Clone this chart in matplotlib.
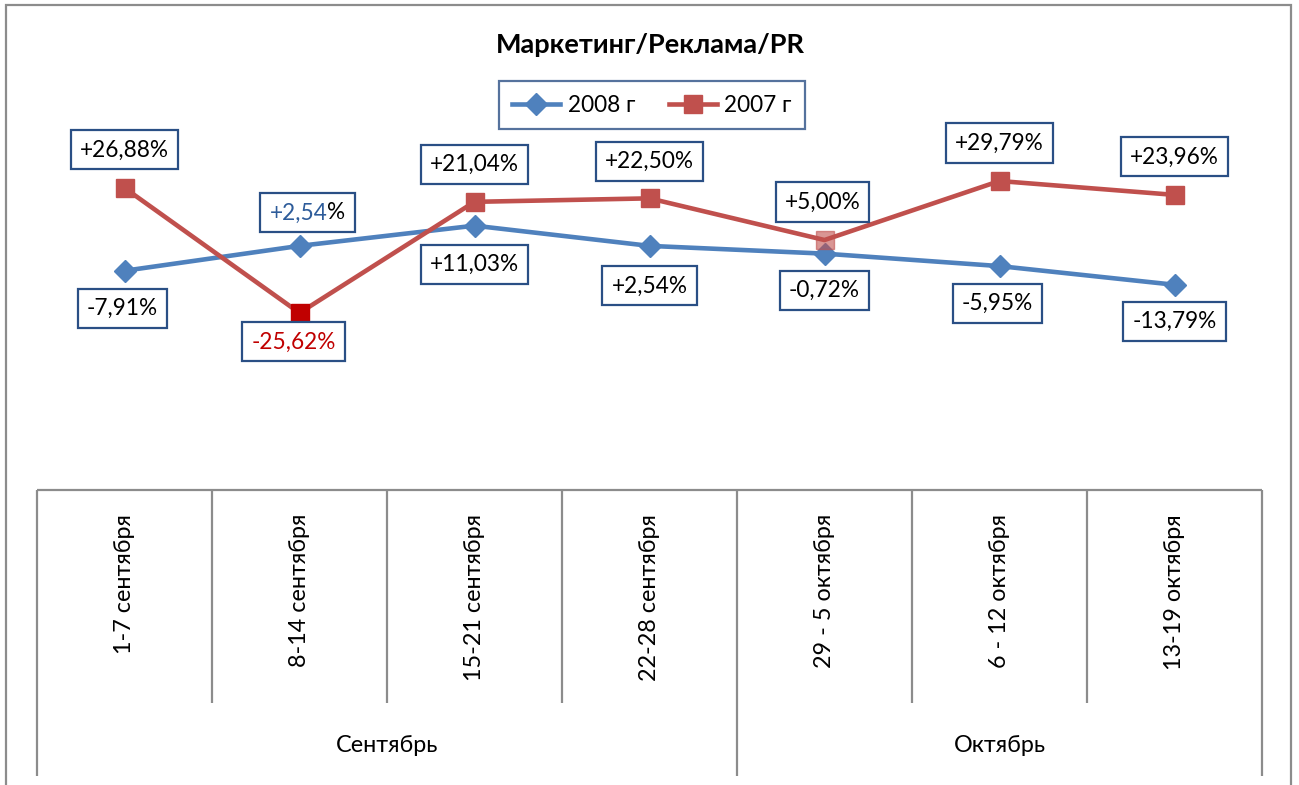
import matplotlib
matplotlib.use("Agg")
import matplotlib.pyplot as plt
from matplotlib.lines import Line2D
from matplotlib.patches import Rectangle

plt.rcParams['font.family'] = ['Lato', 'Open Sans', 'DejaVu Sans']

# ---- data ----
title = "Маркетинг/Реклама/PR"
weeks = ["1-7 сентября", "8-14 сентября", "15-21 сентября", "22-28 сентября",
         "29 - 5 октября", "6 - 12 октября", "13-19 октября"]
months = ["Сентябрь", "Октябрь"]
month_counts = [4, 3]
series_names = ["2008 г", "2007 г"]
values_2008 = [-7.91, 2.54, 11.03, 2.54, -0.72, -5.95, -13.79]
values_2007 = [26.88, -25.62, 21.04, 22.50, 5.00, 29.79, 23.96]

# ---- layout / style ----
W, H, DPI = 1299, 785, 100
BLUE = '#4F81BD'
RED = '#C0504D'
DARKRED = '#C00000'
BOXC = '#2A4F85'
GRAY = '#8C8C8C'
FS = 16.3
FS_AX = 16.8

def fx(px):
    return px / W

def fy(py):
    return 1 - py / H

def pt(px):
    return px * 72.0 / DPI

fig = plt.figure(figsize=(W / DPI, H / DPI), dpi=DPI)
fig.patch.set_facecolor('white')

# outer chart border
fig.add_artist(Rectangle((fx(6), -0.05), fx(1291) - fx(6), fy(5) + 0.05,
                         transform=fig.transFigure, fill=False,
                         edgecolor=GRAY, linewidth=1.6))

x_left, x_right = 37, 1262
ax = fig.add_axes([fx(x_left), fy(490), fx(x_right) - fx(x_left), fy(156.7) - fy(490)])
ax.set_xlim(0.5, len(weeks) + 0.5)
ax.set_ylim(-100, 40)
ax.axis('off')

xs = list(range(1, len(weeks) + 1))

# 2008 line
ax.plot(xs, values_2008, color=BLUE, lw=3.3, marker='D', ms=11,
        markerfacecolor=BLUE, markeredgecolor=BLUE, zorder=3, clip_on=False,
        solid_joinstyle='round')
# 2007 line
ax.plot(xs, values_2007, color=RED, lw=3.3, zorder=4, clip_on=False,
        solid_joinstyle='round')
normal_idx = [0, 2, 3, 5, 6]
ax.plot([xs[i] for i in normal_idx], [values_2007[i] for i in normal_idx],
        ls='none', marker='s', ms=13, color=RED, zorder=5, clip_on=False)
ax.plot([xs[1]], [values_2007[1]], ls='none', marker='s', ms=13,
        color=DARKRED, zorder=5, clip_on=False)
ax.plot([xs[4]], [values_2007[4]], ls='none', marker='s', ms=13,
        color=RED, alpha=0.6, zorder=5, clip_on=False)

def fmt(v):
    return f"{v:+.2f}%".replace('.', ',')

BOX_LW = 1.6
box = dict(boxstyle='square,pad=0.40', facecolor='white', edgecolor=BOXC, linewidth=BOX_LW)

# label offsets in pixels (dx, dy; dy positive = up)
off_2007 = [(0, 38), (-6, -29), (0, 37), (0, 37), (-2, 38), (0, 38), (0, 38)]
off_2008 = [(-2, -38), (8, 33), (0, -39), (0, -40), (0, -37), (-2, -37), (0, -37)]
col_2007 = ['black', DARKRED, 'black', 'black', 'black', 'black', 'black']

for i, v in enumerate(values_2007):
    dx, dy = off_2007[i]
    ax.annotate(fmt(v), (xs[i], v), xytext=(pt(dx), pt(dy)), textcoords='offset points',
                ha='center', va='center', fontsize=FS, color=col_2007[i],
                bbox=box, zorder=10, annotation_clip=False)

lab_2008 = []
for i, v in enumerate(values_2008):
    dx, dy = off_2008[i]
    t = ax.annotate(fmt(v), (xs[i], v), xytext=(pt(dx), pt(dy)), textcoords='offset points',
                    ha='center', va='center', fontsize=FS, color='black',
                    bbox=box, zorder=10, annotation_clip=False)
    lab_2008.append(t)

# two-coloured label (index 1 of 2008): number blue, "%" black
fig.canvas.draw()
t = lab_2008[1]
tb = t.get_window_extent()
pb = t.get_bbox_patch().get_window_extent()
t.remove()
fw, fh = fig.bbox.width, fig.bbox.height
fig.add_artist(Rectangle((pb.x0 / fw, pb.y0 / fh), pb.width / fw, pb.height / fh,
                         transform=fig.transFigure, facecolor='white',
                         edgecolor=BOXC, linewidth=BOX_LW, zorder=10))
s = fmt(values_2008[1])
fig.text(tb.x0 / fw, tb.y0 / fh, s[:-1], ha='left', va='bottom', fontsize=FS,
         color='#2E5C9A', zorder=11)
fig.text(tb.x1 / fw, tb.y0 / fh, s[-1], ha='right', va='bottom', fontsize=FS,
         color='black', zorder=11)

# legend
handles = [Line2D([], [], color=BLUE, lw=3.3, marker='D', ms=11),
           Line2D([], [], color=RED, lw=3.3, marker='s', ms=13)]
leg = ax.legend(handles, series_names, loc='center', ncol=2,
                bbox_to_anchor=(fx(652), fy(105)), bbox_transform=fig.transFigure,
                frameon=True, fancybox=False, fontsize=FS, handlelength=2.1,
                columnspacing=1.5, handletextpad=0.35, borderpad=0.6)
leg.get_frame().set_edgecolor(BOXC)
leg.get_frame().set_linewidth(1.6)

# title
fig.text(fx(650), fy(45), title, ha='center', va='center', fontsize=19.5,
         fontweight='bold')

# category axis (multi-level)
axc = fig.add_axes([fx(x_left), fy(776), fx(x_right) - fx(x_left), fy(490) - fy(776)])
axc.set_xlim(0.5, len(weeks) + 0.5)
axc.set_ylim(776, 490)
axc.axis('off')
axc.hlines(490, 0.5, len(weeks) + 0.5, color=GRAY, lw=1.6, clip_on=False)
bounds = [0.5]
for c in month_counts:
    bounds.append(bounds[-1] + c)
for b in [k + 0.5 for k in range(len(weeks) + 1)]:
    full = any(abs(b - m) < 1e-9 for m in bounds)
    axc.vlines(b, 490, 776 if full else 703, color=GRAY, lw=1.6, clip_on=False)
for i, w in enumerate(weeks):
    axc.text(xs[i], 514, w, rotation=90, ha='center', va='top', fontsize=FS_AX)
for j, m in enumerate(months):
    axc.text((bounds[j] + bounds[j + 1]) / 2, 745, m, ha='center', va='center', fontsize=FS_AX)

fig.savefig('out.png', dpi=DPI, facecolor='white')
